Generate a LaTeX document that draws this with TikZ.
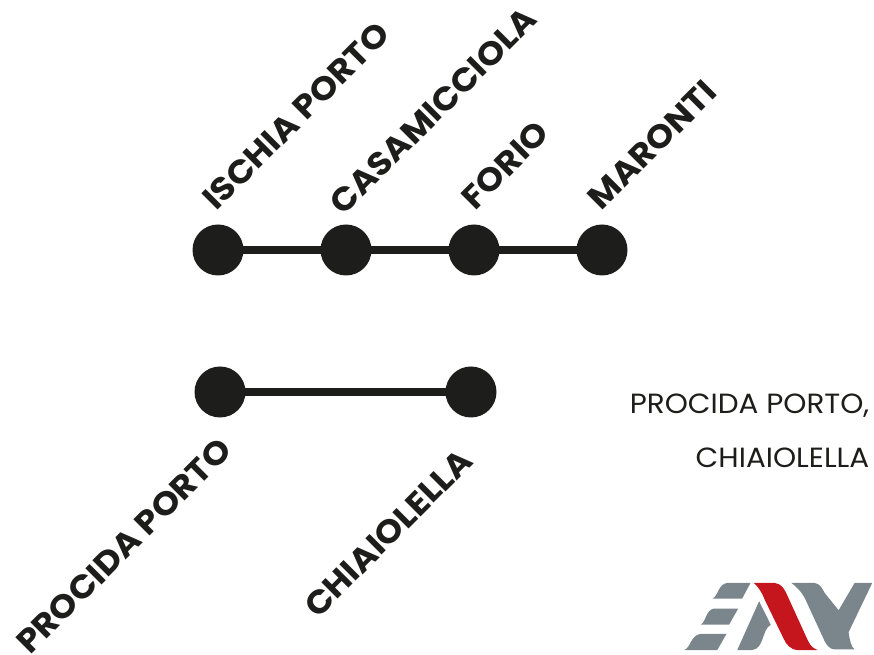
\documentclass[tikz,border=0pt]{standalone}
\usepackage{fontspec}
\setmainfont{Poppins}
\newfontfamily\stopfont[FakeStretch=1.07]{Poppins}
\newfontfamily\plainfont[FakeStretch=1.06]{Poppins}
\usepackage{tikz}
\usepackage{tkz-graph}
\definecolor{stopblack}{HTML}{1D1D1B}
\definecolor{logogrey}{HTML}{7B868C}
\definecolor{logored}{HTML}{C4161C}

\begin{document}
\begin{tikzpicture}
\useasboundingbox (0,0) rectangle (8.74,6.55);
\tikzset{
	VertexStyle/.style = {shape=circle, fill=stopblack, draw=none, inner sep=0pt, outer sep=0pt, minimum size=0.51cm},
	EdgeStyle/.style = {draw=stopblack, line width=2.3pt, shorten >=-1pt, shorten <=-1pt},
	StopName/.style = {rotate=45, text=stopblack, font=\fontsize{9.3}{10}\stopfont\bfseries, inner sep=0pt},
	PlainName/.style = {anchor=east, text=stopblack, font=\fontsize{7.9}{9}\plainfont, inner sep=0pt}
}
\Vertex[x=2.18,y=4.05,NoLabel]{IP}
\Vertex[x=3.46,y=4.05,NoLabel]{CA}
\Vertex[x=4.74,y=4.05,NoLabel]{FO}
\Vertex[x=6.02,y=4.05,NoLabel]{MA}
\Vertex[x=2.20,y=2.63,NoLabel]{PP}
\Vertex[x=4.71,y=2.63,NoLabel]{CH}
\Edge(IP)(CA)
\Edge(CA)(FO)
\Edge(FO)(MA)
\Edge(PP)(CH)
\node[StopName] (nameIP) at (2.96,5.39) {ISCHIA PORTO};
\node[StopName] (nameCA) at (4.33,5.44) {CASAMICCIOLA};
\node[StopName] (nameFO) at (5.05,4.90) {FORIO};
\node[StopName] (nameMA) at (6.52,5.10) {MARONTI};
\node[StopName] (namePP) at (1.24,1.09) {PROCIDA PORTO};
\node[StopName] (nameCH) at (3.88,1.22) {CHIAIOLELLA};
\node[PlainName] (textPP) at (8.70,2.49) {PROCIDA PORTO,};
\node[PlainName] (textCH) at (8.70,1.97) {CHIAIOLELLA};
% logo
\begin{scope}[shift={(6.70,0.85)},x=0.00333cm,y=-0.00333cm]
\fill[logogrey] (128,86) .. controls (145,78) and (145,42) .. (172,39) -- (242,39) -- (217,86) -- cycle;
\fill[logogrey] (93,164) .. controls (108,155) and (108,120) .. (132,116) -- (205,116) -- (178,164) -- cycle;
\fill[logogrey] (42,241) .. controls (62,235) and (62,196) .. (92,192) -- (170,192) -- (142,241) -- cycle;
\fill[logogrey] (202,241) -- (268,94) -- (303,165) .. controls (275,178) and (285,238) .. (245,241) -- cycle;
\fill[logored] (252,39) -- (315,39) .. controls (335,41) and (345,58) .. (352,75) -- (415,213) .. controls (422,230) and (435,238) .. (445,241) -- (385,241) .. controls (362,239) and (350,225) .. (342,207) -- (285,90) .. controls (278,70) and (265,50) .. (252,39) -- cycle;
\fill[logogrey] (365,39) -- (435,39) .. controls (450,41) and (458,55) .. (465,69) -- (507,121) -- (555,39) -- (608,39) -- (537,187) .. controls (540,210) and (545,232) .. (555,239) -- (495,239) .. controls (480,237) and (472,228) .. (465,214) -- (405,84) .. controls (395,65) and (380,50) .. (365,39) -- cycle;
\end{scope}
\end{tikzpicture}
\end{document}
